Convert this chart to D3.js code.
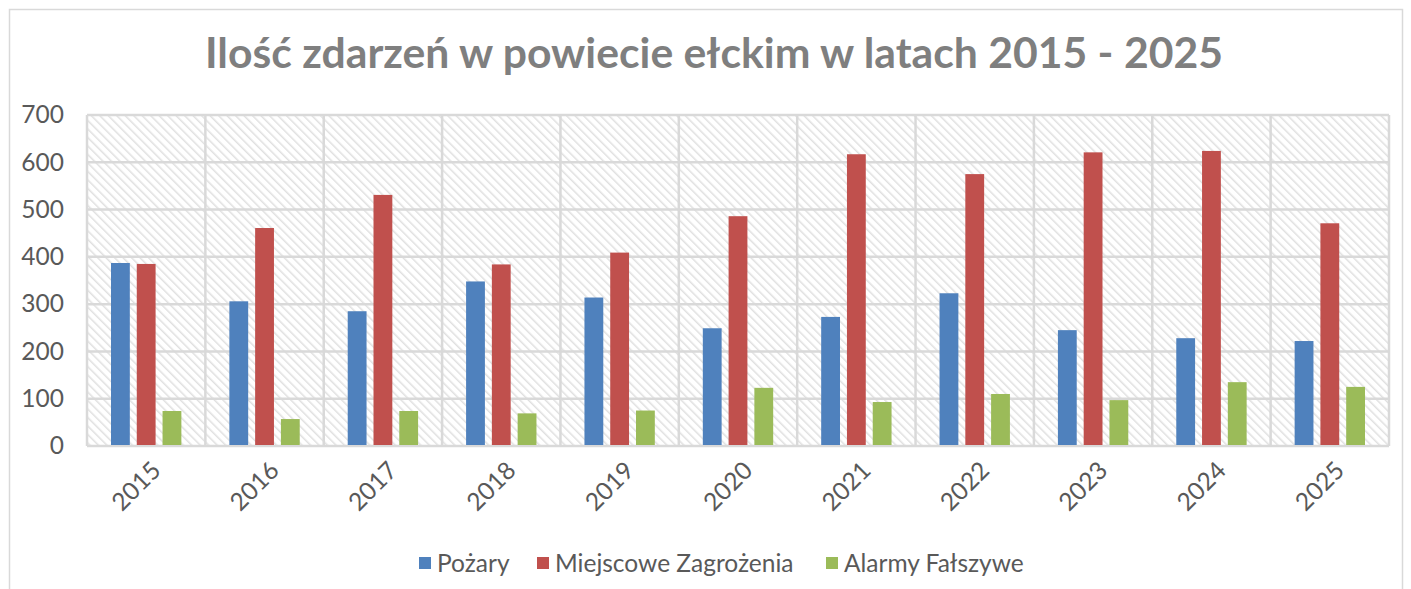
<!DOCTYPE html>
<html>
<head>
<meta charset="utf-8">
<script src="https://cdn.jsdelivr.net/npm/d3@7"></script>
<style>
  body { margin: 0; background: #fff; }
  svg text { font-family: Lato, "Open Sans", sans-serif; }
</style>
</head>
<body>
<svg id="chart" width="1411" height="589"></svg>
<script>
const years = ["2015", "2016", "2017", "2018", "2019", "2020", "2021", "2022", "2023", "2024", "2025"];
const seriesNames = ["Pożary", "Miejscowe Zagrożenia", "Alarmy Fałszywe"];
const pozary = [387, 306, 285, 348, 314, 249, 273, 323, 245, 228, 222];
const miejscowe = [385, 461, 531, 384, 409, 486, 617, 575, 621, 624, 471];
const alarmy = [74, 57, 74, 69, 75, 123, 93, 110, 97, 135, 125];
const colors = ["#4f81bd", "#c0504d", "#9bbb59"];
const yTicks = [0, 100, 200, 300, 400, 500, 600, 700];

const svg = d3.select("#chart");
const W = 1411, H = 589;

const marginLeft = 87;
const marginRight = 22;
const marginTop = 115;
const plotBottom = 446;

// outer frame
svg.append("rect")
    .attr("x", 9.5).attr("y", 9.5)
    .attr("width", 1393).attr("height", 600)
    .attr("fill", "#fff")
    .attr("stroke", "#d9d9d9")
    .attr("stroke-width", 1.5);

// hatch for plot background (downward diagonal)
const defs = svg.append("defs");
const pat = defs.append("pattern")
    .attr("id", "hatch")
    .attr("patternUnits", "userSpaceOnUse")
    .attr("width", 6).attr("height", 6)
    .attr("patternTransform", "rotate(-45)");
pat.append("rect").attr("width", 6).attr("height", 6).attr("fill", "#fff");
pat.append("line")
    .attr("x1", 0).attr("y1", 0).attr("x2", 0).attr("y2", 6)
    .attr("stroke", "#e0e0e0").attr("stroke-width", 3);

const xscale = d3.scaleBand()
    .domain(years)
    .range([marginLeft, W - marginRight]);

const inner = d3.scaleBand()
    .domain(d3.range(3))
    .range([24, xscale.bandwidth() - 24])
    .paddingInner(0.27);

const yscale = d3.scaleLinear()
    .domain([0, 700])
    .range([plotBottom, marginTop]);

svg.append("rect")
    .attr("x", marginLeft).attr("y", marginTop)
    .attr("width", W - marginRight - marginLeft)
    .attr("height", plotBottom - marginTop)
    .attr("fill", "url(#hatch)");

// grid
const grid = svg.append("g").attr("stroke", "#d9d9d9").attr("stroke-width", 2.5);
grid.selectAll("line.h")
    .data(yTicks)
    .join("line")
    .attr("class", "h")
    .attr("x1", marginLeft).attr("x2", W - marginRight)
    .attr("y1", d => yscale(d)).attr("y2", d => yscale(d));
grid.selectAll("line.v")
    .data(years.concat(["end"]))
    .join("line")
    .attr("class", "v")
    .attr("x1", (d, i) => marginLeft + i * xscale.bandwidth())
    .attr("x2", (d, i) => marginLeft + i * xscale.bandwidth())
    .attr("y1", marginTop).attr("y2", plotBottom);

// bars
const allSeries = [pozary, miejscowe, alarmy];
const groups = svg.append("g")
    .selectAll("g")
    .data(allSeries)
    .join("g")
    .attr("fill", (d, i) => colors[i]);

groups.each(function(values, si) {
    d3.select(this).selectAll("rect")
        .data(values)
        .join("rect")
        .attr("x", (d, i) => xscale(years[i]) + inner(si))
        .attr("width", inner.bandwidth())
        .attr("y", d => yscale(d))
        .attr("height", d => plotBottom - 1 - yscale(d));
});

// y axis labels
const yAxis = d3.axisLeft(yscale).tickValues(yTicks).tickSize(0).tickPadding(0);
const ya = svg.append("g")
    .attr("transform", `translate(${[64, 0]})`)
    .call(yAxis);
ya.select(".domain").remove();
ya.selectAll("text")
    .attr("fill", "#595959")
    .attr("font-size", 24.5)
    .attr("font-family", "Lato, sans-serif");

// x axis labels
const xAxis = d3.axisBottom(xscale).tickSize(0).tickPadding(0);
const xa = svg.append("g")
    .attr("transform", `translate(${[0, plotBottom]})`)
    .call(xAxis);
xa.select(".domain").remove();
xa.selectAll("text")
    .attr("fill", "#595959")
    .attr("font-size", 24.5)
    .attr("font-family", "Lato, sans-serif")
    .attr("text-anchor", "end")
    .attr("dy", null)
    .attr("y", 0)
    .attr("transform", "translate(16,26) rotate(-45)");

// title
svg.append("text")
    .attr("x", 714)
    .attr("y", 68)
    .attr("text-anchor", "middle")
    .attr("font-size", 42.7)
    .attr("font-weight", "bold")
    .attr("fill", "#7f7f7f")
    .text("Ilość zdarzeń w powiecie ełckim w latach 2015 - 2025");

// legend
const legendX = [419, 537, 826];
const leg = svg.append("g")
    .selectAll("g")
    .data(seriesNames)
    .join("g")
    .attr("transform", (d, i) => `translate(${[legendX[i], 557]})`);
leg.append("rect")
    .attr("width", 12).attr("height", 12)
    .attr("fill", (d, i) => colors[i]);
leg.append("text")
    .attr("x", 18).attr("y", 14.5)
    .attr("font-size", 24.5)
    .attr("fill", "#595959")
    .text(d => d);
</script>
</body>
</html>
